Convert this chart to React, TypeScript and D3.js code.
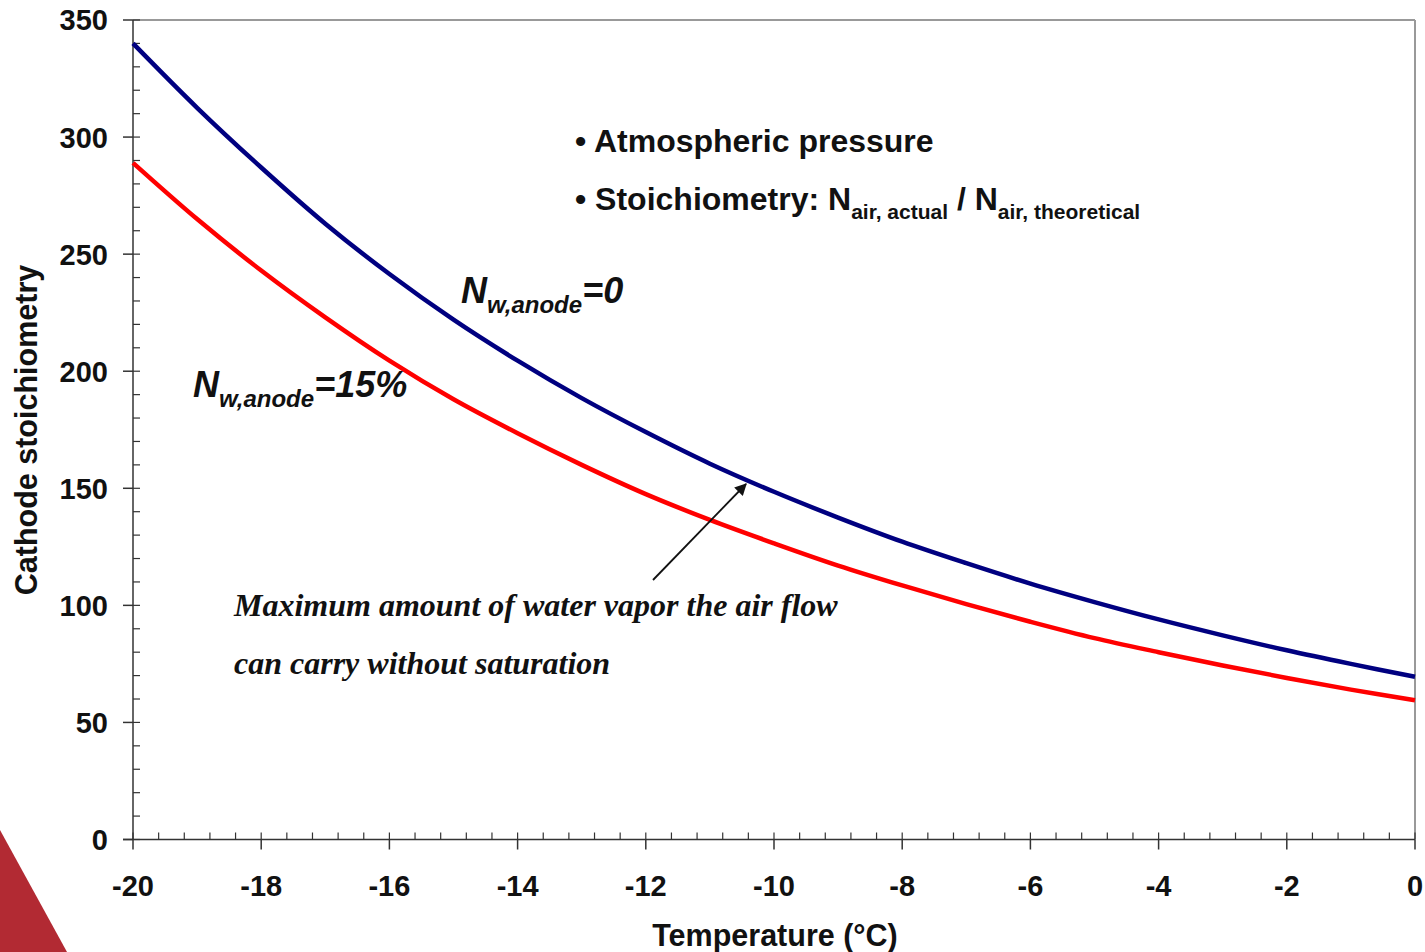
import React from "react";
import * as d3 from "d3";

const temperatures = [-20, -19, -18, -17, -16, -15, -14, -13, -12, -11, -10, -9, -8, -7, -6, -5, -4, -3, -2, -1, 0];
const stoichDry = [340, 312.5, 287, 263, 241.5, 222, 204.5, 188.5, 174, 160.5, 148.5, 137.5, 127.2, 118, 109.3, 101.4, 94, 87.2, 80.8, 75, 69.5];
const stoich15 = [289, 265, 243, 223, 204.5, 188, 173.5, 160, 147.5, 136.5, 126.5, 117, 108.5, 100.5, 93, 86, 80, 74.3, 69, 64, 59.5];
const xTicks = [-20, -18, -16, -14, -12, -10, -8, -6, -4, -2, 0];
const yTicks = [0, 50, 100, 150, 200, 250, 300, 350];

const W = 1425, H = 952;
const M = { left: 133, right: 1415, top: 20, bottom: 839.5 };

export default function App() {
  const x = d3.scaleLinear().domain([-20, 0]).range([M.left, M.right]);
  const y = d3.scaleLinear().domain([0, 350]).range([M.bottom, M.top]);
  const line = d3
    .line<number>()
    .x((_, i) => x(temperatures[i]))
    .y((d) => y(d))
    .curve(d3.curveCatmullRom.alpha(0.5));

  const xMinor = d3.range(-20, 0.001, 0.4).map((v) => +v.toFixed(2));
  const yMinor = d3.range(0, 350.001, 10);
  const sans = "'Liberation Sans', Arial, sans-serif";
  const serif = "'Liberation Serif', 'Times New Roman', serif";

  return (
    <svg width={W} height={H} style={{ position: "absolute", left: 0, top: 0, background: "#fff" }}>
      <polygon points="0,830 67,952 0,952" fill="#b22a33" />
      {/* frame */}
      <line x1={M.left} x2={M.right} y1={M.top} y2={M.top} stroke="#999" strokeWidth={2} />
      <line x1={M.right} x2={M.right} y1={M.top} y2={M.bottom} stroke="#999" strokeWidth={2} />
      {/* y axis */}
      <line x1={M.left} x2={M.left} y1={M.top} y2={M.bottom} stroke="#333" strokeWidth={1.5} />
      {yMinor.map((v) => (
        <line key={"ym" + v} x1={M.left} x2={M.left + 7} y1={y(v)} y2={y(v)} stroke="#333" strokeWidth={1.2} />
      ))}
      {yTicks.map((v) => (
        <g key={"y" + v}>
          <line x1={M.left - 10} x2={M.left} y1={y(v)} y2={y(v)} stroke="#333" strokeWidth={1.5} />
          <text x={108} y={y(v)} dy="0.36em" textAnchor="end" fontFamily={sans} fontWeight="bold" fontSize={29} fill="#111">
            {v}
          </text>
        </g>
      ))}
      {/* x axis */}
      <line x1={M.left - 10} x2={M.right} y1={M.bottom} y2={M.bottom} stroke="#333" strokeWidth={1.5} />
      {xMinor.map((v) => (
        <line key={"xm" + v} x1={x(v)} x2={x(v)} y1={M.bottom} y2={M.bottom - 7} stroke="#333" strokeWidth={1.2} />
      ))}
      {xTicks.map((v) => (
        <g key={"x" + v}>
          <line x1={x(v)} x2={x(v)} y1={M.bottom} y2={M.bottom + 10} stroke="#333" strokeWidth={1.5} />
          <text x={x(v)} y={896} textAnchor="middle" fontFamily={sans} fontWeight="bold" fontSize={29} fill="#111">
            {v}
          </text>
        </g>
      ))}
      <text x={775} y={946} textAnchor="middle" fontFamily={sans} fontWeight="bold" fontSize={30.5} fill="#111">
        Temperature (°C)
      </text>
      <text transform="translate(37,430) rotate(-90)" textAnchor="middle" fontFamily={sans} fontWeight="bold" fontSize={30.5} fill="#111">
        Cathode stoichiometry
      </text>
      {/* curves */}
      <path d={line(stoich15) || ""} fill="none" stroke="#ff0000" strokeWidth={4.5} />
      <path d={line(stoichDry) || ""} fill="none" stroke="#000080" strokeWidth={4.5} />
      {/* notes */}
      <text x={575} y={152} fontFamily={sans} fontWeight="bold" fontSize={32} fill="#111">
        • Atmospheric pressure
      </text>
      <text x={575} y={210} fontFamily={sans} fontWeight="bold" fontSize={32} fill="#111">
        • Stoichiometry: N<tspan fontSize={21} dy={9}>air, actual</tspan>
        <tspan dy={-9}> / N</tspan>
        <tspan fontSize={21} dy={9}>air, theoretical</tspan>
      </text>
      <text x={461} y={303} fontFamily={sans} fontWeight="bold" fontStyle="italic" fontSize={36} fill="#111">
        N<tspan fontSize={24} dy={10}>w,anode</tspan>
        <tspan dy={-10}>=0</tspan>
      </text>
      <text x={193} y={397} fontFamily={sans} fontWeight="bold" fontStyle="italic" fontSize={36} fill="#111">
        N<tspan fontSize={24} dy={10}>w,anode</tspan>
        <tspan dy={-10}>=15%</tspan>
      </text>
      <defs>
        <marker id="ah" viewBox="0 0 10 10" refX={9} refY={5} markerWidth={15} markerHeight={12} orient="auto" markerUnits="userSpaceOnUse">
          <path d="M0,0 L10,5 L0,10 z" fill="#111" />
        </marker>
      </defs>
      <line x1={653} y1={580} x2={746} y2={484} stroke="#111" strokeWidth={1.8} markerEnd="url(#ah)" />
      <text x={234} y={616} fontFamily={serif} fontWeight="bold" fontStyle="italic" fontSize={32} fill="#111">
        Maximum amount of water vapor the air flow
      </text>
      <text x={234} y={674} fontFamily={serif} fontWeight="bold" fontStyle="italic" fontSize={32} fill="#111">
        can carry without saturation
      </text>
    </svg>
  );
}
